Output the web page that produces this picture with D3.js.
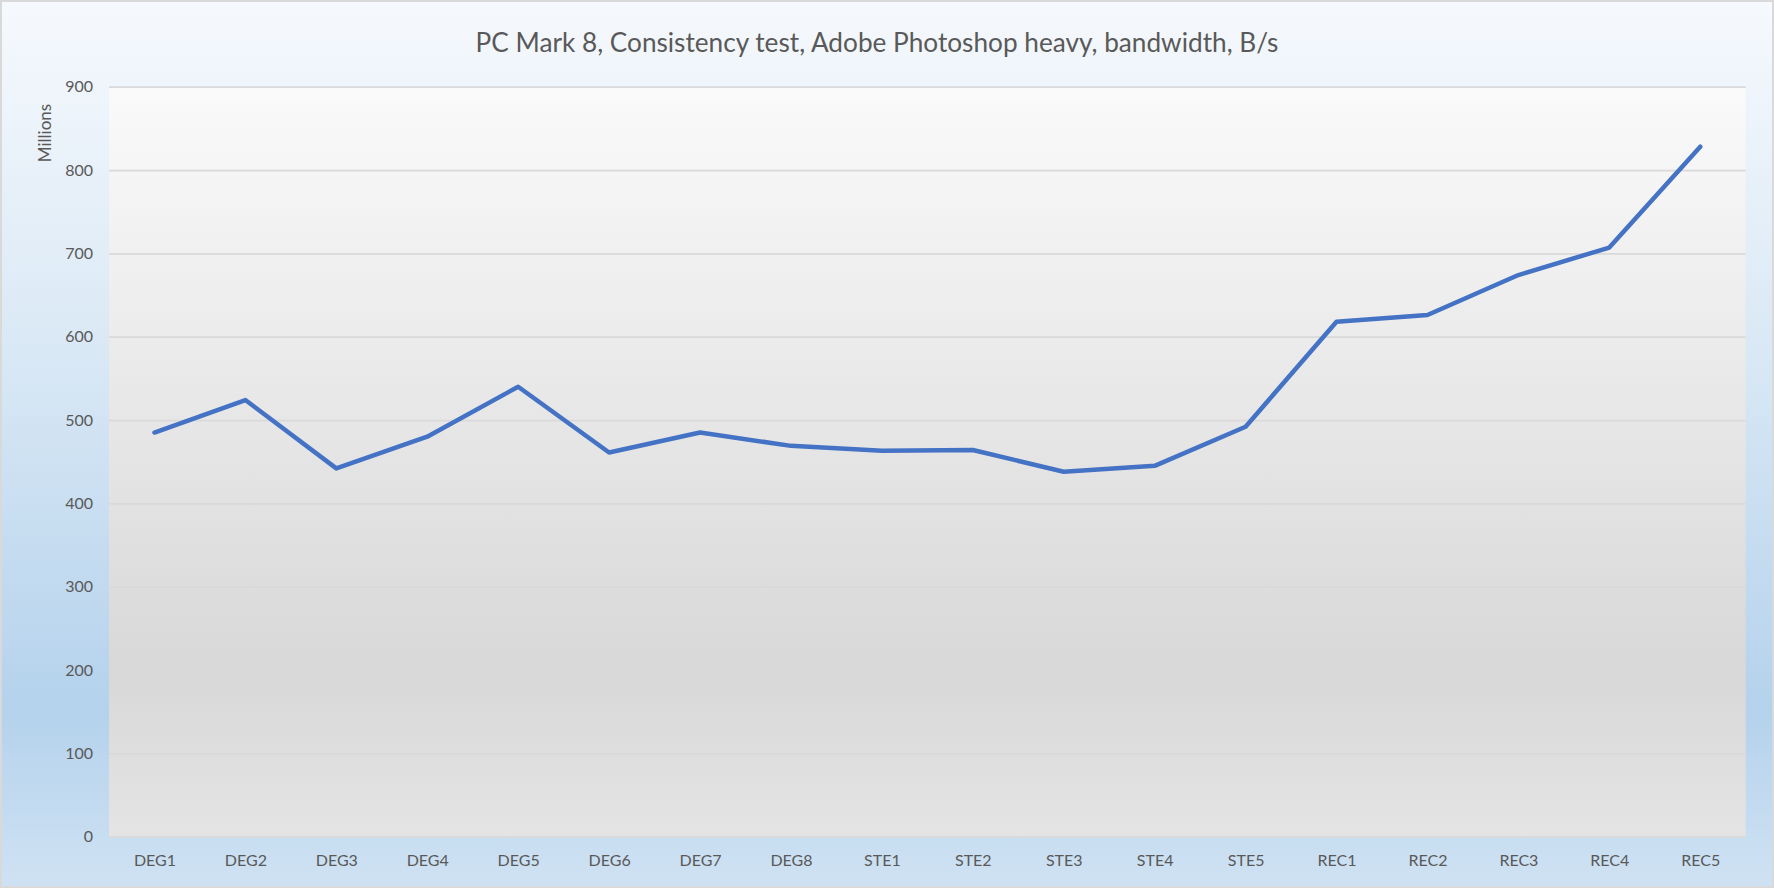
<!DOCTYPE html>
<html>
<head>
<meta charset="utf-8">
<script src="https://cdn.jsdelivr.net/npm/d3@7"></script>
<style>
    html, body { margin: 0; padding: 0; background: #ffffff; }
    svg { display: block; font-family: Lato, "Noto Sans", sans-serif; }
    .axis text { fill: #595959; font-size: 16px; font-family: Lato, "Noto Sans", sans-serif; }
    .axis .domain { display: none; }
    .axis-y line { stroke: #d9d9d9; stroke-width: 1.75; }
    .line { fill: none; stroke: #4472c4; stroke-width: 4.5; stroke-linecap: round; stroke-linejoin: round; }
</style>
</head>
<body>
<svg width="1774" height="888"></svg>
<script>
//Catégories de l'axe horizontal
var categories = ["DEG1", "DEG2", "DEG3", "DEG4", "DEG5", "DEG6", "DEG7", "DEG8",
    "STE1", "STE2", "STE3", "STE4", "STE5", "REC1", "REC2", "REC3", "REC4", "REC5"];
//Bande passante, en millions de B/s
var valeurs = [485, 524, 442, 480, 540, 461, 485, 469,
    463, 464, 438, 445, 492, 618, 626, 674, 707, 828];
//Graduations de l'axe vertical
var graduationsY = [0, 100, 200, 300, 400, 500, 600, 700, 800, 900];
var titre = "PC Mark 8, Consistency test, Adobe Photoshop heavy, bandwidth, B/s";
var titreAxeY = "Millions";

(function () {
    var svg = d3.select("svg");
    var largeurTotale = +svg.attr("width"),
            hauteurTotale = +svg.attr("height");
    //Marges de la zone de tracé
    var margin = {top: 86.7, right: 28.3, bottom: 51.3, left: 109},
            width = largeurTotale - margin.left - margin.right,
            height = hauteurTotale - margin.top - margin.bottom;

    //Dégradés du fond (bleu) et de la zone de tracé (gris)
    var defs = svg.append("defs");
    var degradeFond = defs.append("linearGradient")
            .attr("id", "fond").attr("x1", 0).attr("y1", 0).attr("x2", 0).attr("y2", 1);
    degradeFond.append("stop").attr("offset", "0%").attr("stop-color", "#f6f9fd");
    degradeFond.append("stop").attr("offset", "40%").attr("stop-color", "#d9e8f5");
    degradeFond.append("stop").attr("offset", "80%").attr("stop-color", "#b4d2ec");
    degradeFond.append("stop").attr("offset", "100%").attr("stop-color", "#cfe2f3");
    var degradeTrace = defs.append("linearGradient")
            .attr("id", "trace").attr("x1", 0).attr("y1", 0).attr("x2", 0).attr("y2", 1);
    degradeTrace.append("stop").attr("offset", "0%").attr("stop-color", "#fafafa");
    degradeTrace.append("stop").attr("offset", "78%").attr("stop-color", "#d8d8d8");
    degradeTrace.append("stop").attr("offset", "100%").attr("stop-color", "#e4e4e4");

    svg.append("rect")
            .attr("x", 1).attr("y", 1)
            .attr("width", largeurTotale - 2).attr("height", hauteurTotale - 2)
            .attr("fill", "url(#fond)")
            .attr("stroke", "#d9d9d9").attr("stroke-width", 2);

    var zoneDessin = svg.append("g")
            .attr("transform", "translate(" + margin.left + "," + margin.top + ")");
    zoneDessin.append("rect")
            .attr("width", width).attr("height", height)
            .attr("fill", "url(#trace)");

    //Echelles
    var echelleX = d3.scalePoint()
            .domain(categories)
            .range([0, width])
            .padding(0.5);
    var echelleY = d3.scaleLinear()
            .domain([0, 900])
            .range([height, 0]);

    //Axe vertical avec les lignes de grille
    zoneDessin.append("g")
            .attr("class", "axis axis-y")
            .call(d3.axisLeft(echelleY)
                    .tickValues(graduationsY)
                    .tickSize(-width)
                    .tickPadding(16)
                    .tickFormat(d3.format("d")));

    //Axe horizontal, sans graduations
    zoneDessin.append("g")
            .attr("class", "axis axis-x")
            .attr("transform", "translate(0," + height + ")")
            .call(d3.axisBottom(echelleX).tickSize(0).tickPadding(18));

    //Courbe
    zoneDessin.append("path")
            .datum(valeurs)
            .attr("class", "line")
            .attr("d", d3.line()
                    .x(function (d, i) { return echelleX(categories[i]); })
                    .y(function (d) { return echelleY(d); }));

    //Titre, taille ajustée à la largeur mesurée sur l'original
    var texteTitre = svg.append("text")
            .attr("x", 877).attr("y", 43)
            .attr("dy", "0.35em")
            .attr("text-anchor", "middle")
            .attr("fill", "#595959")
            .style("font-size", "24px")
            .text(titre);
    var longueur = texteTitre.node().getComputedTextLength();
    texteTitre.style("font-size", (24 * 803 / longueur) + "px");

    //Titre de l'axe vertical
    svg.append("text")
            .attr("transform", "translate(45,133) rotate(-90)")
            .attr("dy", "0.35em")
            .attr("text-anchor", "middle")
            .attr("fill", "#595959")
            .style("font-size", "17px")
            .text(titreAxeY);
})();
</script>
</body>
</html>
